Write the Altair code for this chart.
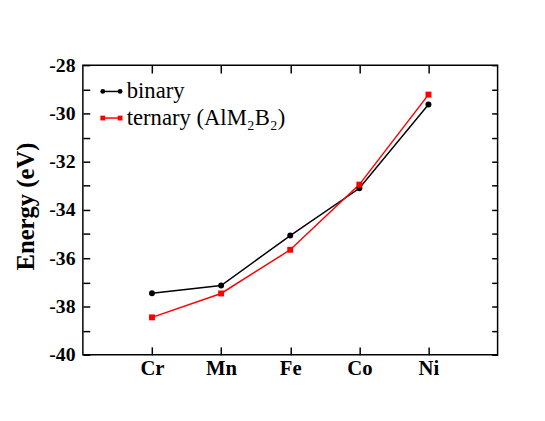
import altair as alt
import pandas as pd

elements = ["Cr", "Mn", "Fe", "Co", "Ni"]
binary = [-37.45, -37.13, -35.06, -33.10, -29.63]
ternary = [-38.45, -37.46, -35.65, -32.95, -29.22]
series_names = ["binary", "ternary (AlM₂B₂)"]
series_colors = ["#000000", "#ff0000"]
series_shapes = ["circle", "square"]
y_label_values = [-40, -38, -36, -34, -32, -30, -28]
y_tick_values = list(range(-40, -27))

rows = []
for e, b, t in zip(elements, binary, ternary):
    rows.append({"element": e, "energy": b, "series": series_names[0]})
    rows.append({"element": e, "energy": t, "series": series_names[1]})
df = pd.DataFrame(rows)
leg_df = pd.DataFrame({"series": series_names, "row": list(range(len(series_names)))})

FONT = "Liberation Serif"
xscale = alt.Scale(type="point", domain=elements, padding=1)
yscale = alt.Scale(domain=[-40, -28], nice=False, zero=False)
cscale = alt.Scale(domain=series_names, range=series_colors)
sscale = alt.Scale(domain=series_names, range=series_shapes)

base = alt.Chart(df)

lines = base.mark_line(strokeWidth=1.5).encode(
    x=alt.X("element:N", scale=xscale, sort=elements,
            axis=alt.Axis(orient="bottom", ticks=False, domain=False, labelAngle=0,
                          labelFont=FONT, labelFontSize=21, labelFontWeight="bold",
                          labelColor="black", labelPadding=3, title=None)),
    y=alt.Y("energy:Q", scale=yscale,
            axis=alt.Axis(orient="left", ticks=False, domain=False, grid=False,
                          values=y_label_values, labelExpr="'' + datum.value",
                          labelFont=FONT, labelFontSize=20, labelFontWeight="bold",
                          labelColor="black", labelPadding=8,
                          title="Energy (eV)", titleFont=FONT, titleFontSize=25,
                          titleFontWeight="bold", titleColor="black",
                          titleX=-58, titleY=143, titleBaseline="middle",
                          titleAlign="center", titleAngle=270)),
    color=alt.Color("series:N", scale=cscale, legend=None),
    detail="series:N",
)

points = base.mark_point(filled=True, size=36, opacity=1).encode(
    x=alt.X("element:N", scale=xscale, sort=elements,
            axis=alt.Axis(orient="top", labels=False, domain=False, tickSize=8,
                          offset=-8, tickColor="black", tickWidth=1.5, title=None)),
    y=alt.Y("energy:Q", scale=yscale,
            axis=alt.Axis(orient="right", labels=False, domain=False, grid=False,
                          values=y_tick_values, tickSize=6, offset=-6,
                          tickColor="black", tickWidth=1.5, title=None)),
    color=alt.Color("series:N", scale=cscale, legend=None),
    shape=alt.Shape("series:N", scale=sscale, legend=None),
)

ticks2 = base.mark_point(opacity=0).encode(
    x=alt.X("element:N", scale=xscale, sort=elements,
            axis=alt.Axis(orient="bottom", labels=False, domain=False, tickSize=8,
                          offset=-8, tickColor="black", tickWidth=1.5, title=None)),
    y=alt.Y("energy:Q", scale=yscale,
            axis=alt.Axis(orient="left", labels=False, domain=False, grid=False,
                          values=y_tick_values, tickSize=7, offset=-7,
                          tickColor="black", tickWidth=1.5, title=None)),
)

# legend (drawn in the plot's top-left corner)
leg_base = alt.Chart(leg_df).transform_calculate(py="26.7 + 27 * datum.row")
leg_y = alt.Y("py:Q", scale=None, axis=None)

leg_line = leg_base.mark_rule(strokeWidth=1.5).encode(
    x=alt.value(20.2), x2=alt.value(37.8), y=leg_y,
    color=alt.Color("series:N", scale=cscale, legend=None),
)
leg_pt_left = leg_base.mark_point(filled=True, size=24, opacity=1).encode(
    x=alt.value(20.2), y=leg_y,
    color=alt.Color("series:N", scale=cscale, legend=None),
    shape=alt.Shape("series:N", scale=sscale, legend=None),
)
leg_pt_right = leg_base.mark_point(filled=True, size=24, opacity=1).encode(
    x=alt.value(37.8), y=leg_y,
    color=alt.Color("series:N", scale=cscale, legend=None),
    shape=alt.Shape("series:N", scale=sscale, legend=None),
)
leg_text = leg_base.mark_text(align="left", baseline="middle", font=FONT,
                              fontSize=23, color="black").encode(
    x=alt.value(44.5), y=leg_y, text="series:N",
)

chart = alt.layer(lines, ticks2, points, leg_line, leg_pt_left, leg_pt_right,
                  leg_text).resolve_axis(
    x="independent", y="independent"
).properties(
    width=421, height=294,
    autosize=alt.AutoSizeParams(type="none"),
    padding={"left": 76, "top": 55, "right": 40, "bottom": 50},
    background="white",
).configure_view(stroke="black", strokeWidth=1.5).configure_axis(grid=False)

chart.save("out.html", embed_options={"renderer": "svg", "actions": False})
